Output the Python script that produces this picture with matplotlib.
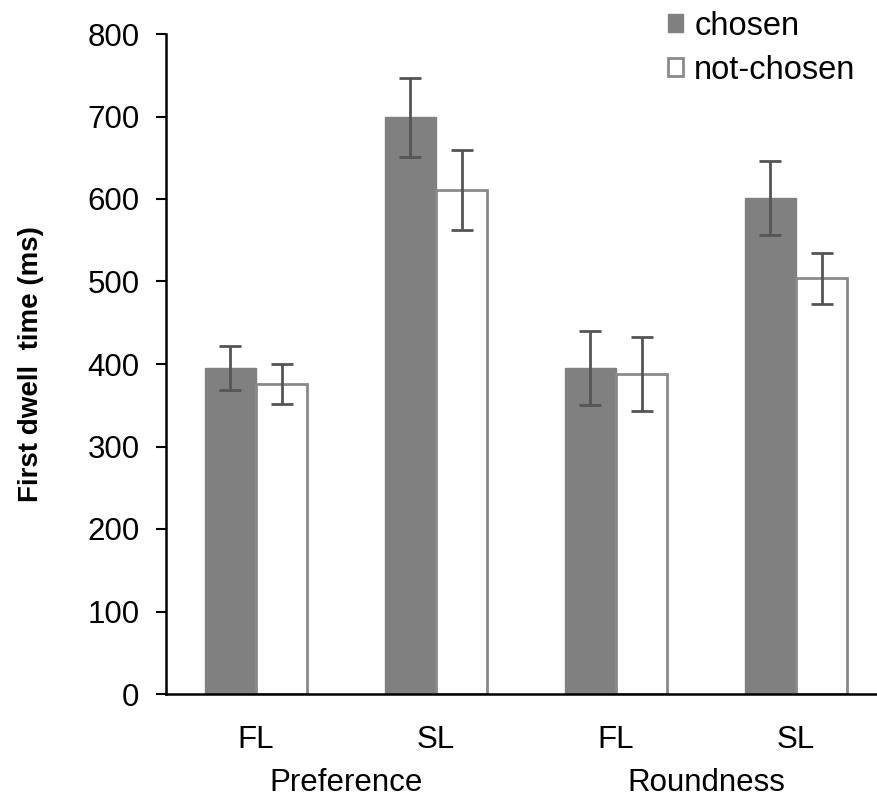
import numpy as np
import matplotlib
matplotlib.use("Agg")
import matplotlib.pyplot as plt

plt.rcParams["font.family"] = ["Liberation Sans", "DejaVu Sans"]

# data
conditions = ["FL", "SL", "FL", "SL"]
groups = ["Preference", "Roundness"]
chosen = [395, 699, 395, 601]
chosen_err = [27, 48, 45, 45]
not_chosen = [376, 611, 388, 504]
not_chosen_err = [24, 48, 45, 31]

fig = plt.figure(figsize=(8.77, 7.99), dpi=100)
ax = fig.add_axes([166 / 877, 105 / 799, 720 / 877, 660 / 799])

x = np.arange(len(conditions))
w = 0.285
err_kw = dict(ecolor="#555555", elinewidth=2.0, capsize=8, capthick=2.0)

ax.bar(x - w / 2, chosen, w, color="#808080", edgecolor="#808080",
       yerr=chosen_err, error_kw=err_kw, label="chosen", zorder=2)
ax.bar(x + w / 2, not_chosen, w, color="white", edgecolor="#8a8a8a",
       linewidth=2.0, yerr=not_chosen_err, error_kw=err_kw,
       label="not-chosen", zorder=2)

ax.set_xlim(-0.5, 3.5)
ax.set_ylim(0, 800)
ax.set_yticks(range(0, 801, 100))
ax.tick_params(axis="y", labelsize=22.5, length=7, width=1.5, direction="out", pad=12)
ax.tick_params(axis="x", length=0, labelsize=22.5, pad=22)
ax.set_xticks(x)
ax.set_xticklabels(conditions)

for s in ["top", "right"]:
    ax.spines[s].set_visible(False)
ax.spines["left"].set_linewidth(1.8)
ax.spines["bottom"].set_linewidth(1.8)

ax.set_ylabel("First dwell  time (ms)", fontsize=20, fontweight="bold")
ax.yaxis.set_label_coords(-0.17, 0.5)

for i, g in enumerate(groups):
    ax.text(0.5 + 2 * i, -0.112, g, transform=ax.get_xaxis_transform(),
            ha="center", va="top", fontsize=22.5)

leg = ax.legend(loc="upper left", bbox_to_anchor=(655 / 877, 1.003), bbox_transform=fig.transFigure,
                frameon=False, fontsize=23.5, handlelength=0.45, handleheight=0.45,
                handletextpad=0.35, labelspacing=0.4, borderaxespad=0)

fig.savefig("out.png", dpi=100, facecolor="white")
